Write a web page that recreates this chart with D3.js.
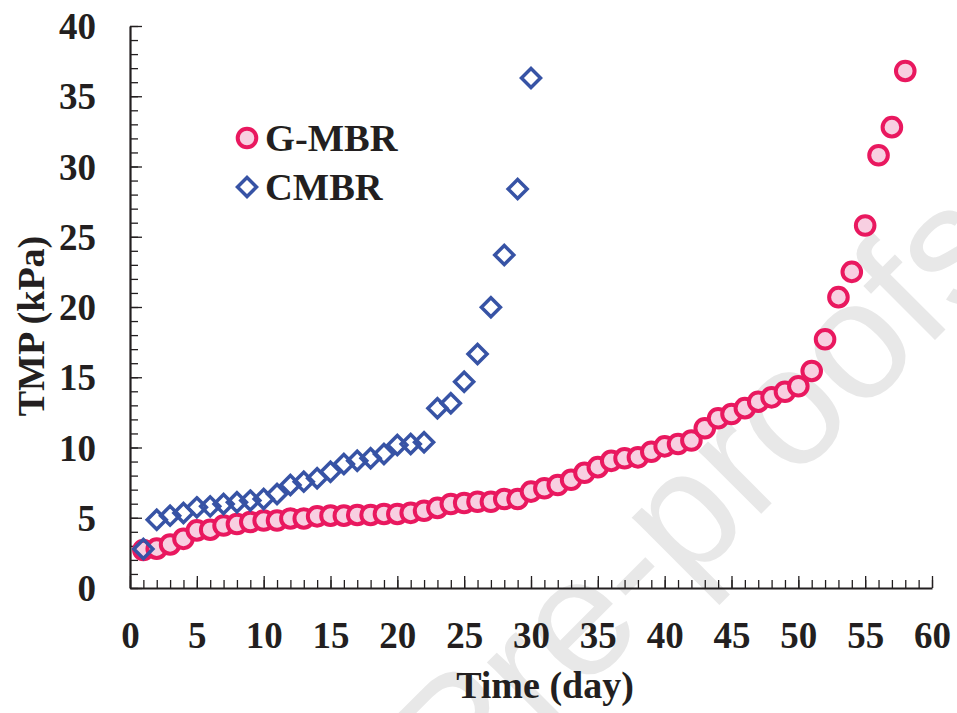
<!DOCTYPE html>
<html>
<head>
<meta charset="utf-8">
<script src="https://cdn.jsdelivr.net/npm/d3@7"></script>
<style>
  body { margin: 0; background: #fff; }
  svg text { font-family: "Liberation Serif", "Times New Roman", serif; font-weight: bold; fill: #231f20; }
</style>
</head>
<body>
<svg id="chart" width="957" height="713"></svg>
<script>
// G-MBR, days 1..58
const gmbrDays = d3.range(1, 59);
const gmbrTmp = [2.7, 2.8, 3.1, 3.5, 4.1, 4.15, 4.45, 4.55, 4.7, 4.8,
                 4.8, 4.95, 4.95, 5.1, 5.15, 5.15, 5.2, 5.2, 5.27, 5.27,
                 5.35, 5.5, 5.7, 5.98, 6.05, 6.14, 6.14, 6.33, 6.33, 6.86,
                 7.1, 7.33, 7.7, 8.2, 8.6, 9.05, 9.23, 9.3, 9.7, 10.08,
                 10.25, 10.5, 11.37, 12.08, 12.38, 12.8, 13.26, 13.57, 13.97, 14.36,
                 15.45, 17.7, 20.7, 22.5, 25.8, 30.8, 32.8, 36.8];
// CMBR, days 1..30
const cmbrDays = d3.range(1, 31);
const cmbrTmp = [2.78, 4.86, 5.15, 5.34, 5.74, 5.81, 5.98, 6.1, 6.22, 6.33,
                 6.69, 7.33, 7.57, 7.81, 8.28, 8.83, 9.06, 9.23, 9.54, 10.18,
                 10.25, 10.37, 12.8, 13.15, 14.68, 16.65, 19.98, 23.7, 28.4, 36.3];
const xTicks = d3.range(0, 61, 5);
const yTicks = d3.range(0, 41, 5);

const svg = d3.select("#chart");
const x = d3.scaleLinear().domain([0, 60]).range([130, 932]);
const y = d3.scaleLinear().domain([0, 40]).range([588, 26]);

// watermark (cut by the picture edge, as in the original)
svg.append("text")
    .attr("transform", "translate(1017,258) rotate(-45)")
    .attr("text-anchor", "end")
    .style("font-family", "'Liberation Sans', Arial, sans-serif")
    .style("font-weight", "normal")
    .style("font-size", "168px")
    .style("fill", "#e8e8e8")
    .text("Journal Pre-proofs");

// minor ticks
svg.append("g")
    .attr("transform", "translate(0,588)")
    .call(d3.axisBottom(x).tickValues(d3.range(0, 61)).tickSize(-8).tickFormat(""))
    .call(g => g.select(".domain").remove());
svg.append("g")
    .attr("transform", "translate(130,0)")
    .call(d3.axisLeft(y).tickValues(d3.range(0, 41)).tickSize(-8).tickFormat(""))
    .call(g => g.select(".domain").remove());

// major ticks + labels
const xAxis = svg.append("g")
    .attr("transform", "translate(0,588)")
    .call(d3.axisBottom(x).tickValues(xTicks).tickSizeInner(-12).tickSizeOuter(0).tickPadding(34));
const yAxis = svg.append("g")
    .attr("transform", "translate(130,0)")
    .call(d3.axisLeft(y).tickValues(yTicks).tickSizeInner(-12).tickSizeOuter(0).tickPadding(34));

svg.selectAll(".tick line").attr("stroke", "#231f20").attr("stroke-width", 1.3);
[xAxis, yAxis].forEach(a => {
    a.select(".domain").attr("stroke", "#231f20").attr("stroke-width", 2.2);
    a.selectAll("text").style("font-size", "37px").attr("fill", "#231f20");
});
yAxis.selectAll("text").attr("dy", "0.34em");

// axis titles
svg.append("text")
    .attr("x", 545).attr("y", 698)
    .attr("text-anchor", "middle")
    .style("font-size", "38px")
    .text("Time (day)");
svg.append("text")
    .attr("transform", "translate(44,326) rotate(-90)")
    .attr("text-anchor", "middle")
    .style("font-size", "38px")
    .text("TMP (kPa)");

// series
const diamond = s => `M0,${-s}L${s},0L0,${s}L${-s},0Z`;

svg.append("g").selectAll("circle")
    .data(gmbrDays)
    .enter()
    .append("circle")
    .attr("cx", d => x(d))
    .attr("cy", (d, i) => y(gmbrTmp[i]))
    .attr("r", 9.3)
    .attr("fill", "#f8cfe1")
    .attr("stroke", "#e9185f")
    .attr("stroke-width", 4);

svg.append("g").selectAll("path")
    .data(cmbrDays)
    .enter()
    .append("path")
    .attr("d", diamond(9.5))
    .attr("transform", (d, i) => `translate(${x(d)},${y(cmbrTmp[i])})`)
    .attr("fill", "none")
    .attr("stroke", "#3753a5")
    .attr("stroke-width", 3.5);

// legend
svg.append("circle")
    .attr("cx", 247).attr("cy", 138).attr("r", 9.3)
    .attr("fill", "#f8cfe1").attr("stroke", "#e9185f").attr("stroke-width", 4);
svg.append("text").attr("x", 265).attr("y", 151).style("font-size", "38.5px").text("G-MBR");
svg.append("path")
    .attr("d", diamond(9.5))
    .attr("transform", "translate(247,187)")
    .attr("fill", "none").attr("stroke", "#3753a5").attr("stroke-width", 3.5);
svg.append("text").attr("x", 265).attr("y", 200).style("font-size", "38.5px").text("CMBR");
</script>
</body>
</html>
